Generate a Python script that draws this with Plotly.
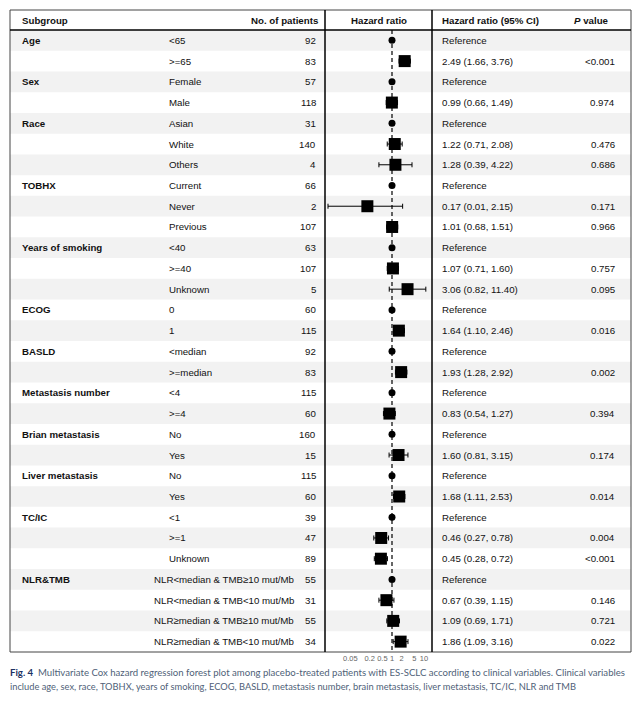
import plotly.graph_objects as go

# The page body has an 8px margin, so the figure is sized to the visible area
OFF = 8
W, H = 641 - 2 * OFF, 706 - 2 * OFF

groups = ["Age", "", "Sex", "", "Race", "", "", "TOBHX", "", "", "Years of smoking", "", "",
          "ECOG", "", "BASLD", "", "Metastasis number", "", "Brian metastasis", "",
          "Liver metastasis", "", "TC/IC", "", "", "NLR&TMB", "", "", ""]
levels = ["<65", ">=65", "Female", "Male", "Asian", "White", "Others", "Current", "Never", "Previous",
          "<40", ">=40", "Unknown", "0", "1", "<median", ">=median", "<4", ">=4", "No", "Yes",
          "No", "Yes", "<1", ">=1", "Unknown",
          "NLR<median & TMB≥10 mut/Mb", "NLR<median & TMB<10 mut/Mb",
          "NLR≥median & TMB≥10 mut/Mb", "NLR≥median & TMB<10 mut/Mb"]
patients = [92, 83, 57, 118, 31, 140, 4, 66, 2, 107, 63, 107, 5, 60, 115, 92, 83, 115, 60,
            160, 15, 115, 60, 39, 47, 89, 55, 31, 55, 34]
# None = reference level
hr = [None, 2.49, None, 0.99, None, 1.22, 1.28, None, 0.17, 1.01, None, 1.07, 3.06, None, 1.64,
      None, 1.93, None, 0.83, None, 1.60, None, 1.68, None, 0.46, 0.45, None, 0.67, 1.09, 1.86]
lo = [None, 1.66, None, 0.66, None, 0.71, 0.39, None, 0.01, 0.68, None, 0.71, 0.82, None, 1.10,
      None, 1.28, None, 0.54, None, 0.81, None, 1.11, None, 0.27, 0.28, None, 0.39, 0.69, 1.09]
hi = [None, 3.76, None, 1.49, None, 2.08, 4.22, None, 2.15, 1.51, None, 1.60, 11.40, None, 2.46,
      None, 2.92, None, 1.27, None, 3.15, None, 2.53, None, 0.78, 0.72, None, 1.15, 1.71, 3.16]
pvals = ["", "<0.001", "", "0.974", "", "0.476", "0.686", "", "0.171", "0.966", "", "0.757", "0.095",
         "", "0.016", "", "0.002", "", "0.394", "", "0.174", "", "0.014", "", "0.004", "<0.001",
         "", "0.146", "0.721", "0.022"]
tick_vals = [0.05, 0.2, 0.5, 1, 2, 5, 10]
tick_text = ["0.05", "0.2", "0.5", "1", "2", "5", "10"]

nrows = len(levels)
rows = list(range(nrows))

def px(x):
    return (x - OFF) / W

def py(y):
    return 1 - (y - OFF) / H

TOP, HEAD, BOT, LEFT, RIGHT = 10, 30, 652, 10, 631
SEP1, SEP2 = 325, 432
X1 = 392          # window pixel of HR = 1
PPD = 32.0        # pixels per decade

fig = go.Figure()

est_rows = [i for i in rows if hr[i] is not None]
fig.add_trace(go.Scatter(
    x=[hr[i] for i in est_rows], y=est_rows, mode="markers",
    marker=dict(symbol="square", size=12, color="black", line=dict(width=0)),
    error_x=dict(type="data", symmetric=False,
                 array=[hi[i] - hr[i] for i in est_rows],
                 arrayminus=[hr[i] - lo[i] for i in est_rows],
                 color="black", thickness=1, width=2.5),
    hoverinfo="skip", showlegend=False))
ref_rows = [i for i in rows if hr[i] is None]
fig.add_trace(go.Scatter(
    x=[1] * len(ref_rows), y=ref_rows, mode="markers",
    marker=dict(symbol="circle", size=7, color="black"),
    hoverinfo="skip", showlegend=False))

shapes = []
for i in rows:
    if i % 2 == 0:
        shapes.append(dict(type="rect", xref="paper", yref="y", x0=px(LEFT), x1=px(RIGHT),
                           y0=i - 0.5, y1=i + 0.5, fillcolor="#f2f2f2", line=dict(width=0),
                           layer="below"))
shapes.append(dict(type="line", xref="x", yref="y", x0=1, x1=1, y0=-0.5, y1=nrows - 0.5,
                   line=dict(color="black", width=1.2, dash="4px,3px"), layer="below"))
shapes.append(dict(type="rect", xref="paper", yref="paper", x0=px(LEFT), x1=px(RIGHT),
                   y0=py(BOT), y1=py(TOP), line=dict(color="#444", width=1)))
shapes.append(dict(type="line", xref="paper", yref="paper", x0=px(LEFT), x1=px(RIGHT),
                   y0=py(HEAD), y1=py(HEAD), line=dict(color="black", width=1.5)))
for s in (SEP1, SEP2):
    shapes.append(dict(type="line", xref="paper", yref="paper", x0=px(s), x1=px(s),
                       y0=py(BOT), y1=py(TOP), line=dict(color="black", width=1.5)))

FONT = "Liberation Sans, Arial, sans-serif"
FS = 9.7
TXT = "#111111"
ann = []

def add(text, x, y, anchor, bold=False, yref="paper", size=FS, color=TXT, family=FONT):
    if bold:
        text = "<b>" + text + "</b>"
    ann.append(dict(text=text, x=x, y=y, xref="paper", yref=yref, xanchor=anchor,
                    yanchor="middle", showarrow=False,
                    font=dict(family=family, size=size, color=color)))

hy = py(20)
add("Subgroup", px(20), hy, "left", True)
add("No. of patients", px(320), hy, "right", True)
add("Hazard ratio", px(379), hy, "center", True)
add("Hazard ratio (95% CI)", px(440), hy, "left", True)
add("<i>P</i> value", px(611), hy, "right", True)

for i in rows:
    if groups[i]:
        add(groups[i], px(20), i, "left", True, yref="y")
    lx = 152 if levels[i].startswith("NLR") else 167
    add(levels[i], px(lx), i, "left", yref="y")
    add(str(patients[i]), px(318), i, "right", yref="y")
    if hr[i] is None:
        t = "Reference"
    else:
        t = f"{hr[i]:.2f} ({lo[i]:.2f}, {hi[i]:.2f})"
    add(t, px(440), i, "left", yref="y")
    if pvals[i]:
        add(pvals[i], px(617), i, "right", yref="y")

CAPF = "Lato, Open Sans, sans-serif"
add("<b><span style='color:#1c3263'>Fig. 4</span></b>  Multivariate Cox hazard regression forest plot among "
    "placebo-treated patients with ES-SCLC according to clinical variables. Clinical variables",
    px(8), py(672), "left", size=9.6, color="#4f5f78", family=CAPF)
add("include age, sex, race, TOBHX, years of smoking, ECOG, BASLD, metastasis number, brain "
    "metastasis, liver metastasis, TC/IC, NLR and TMB",
    px(8), py(686), "left", size=9.3, color="#4f5f78", family=CAPF)

xlo = (SEP1 - X1) / PPD
xhi = (SEP2 - X1) / PPD

fig.update_layout(
    width=W, height=H, margin=dict(l=0, r=0, t=0, b=0),
    paper_bgcolor="white", plot_bgcolor="rgba(0,0,0,0)",
    shapes=shapes, annotations=ann,
    xaxis=dict(type="log", domain=[px(SEP1), px(SEP2)], range=[xlo, xhi],
               tickvals=tick_vals, ticktext=tick_text, ticks="", showgrid=False,
               zeroline=False, showline=False,
               tickfont=dict(family=FONT, size=7.5, color="#666666")),
    yaxis=dict(domain=[py(BOT), py(HEAD)], range=[nrows - 0.5, -0.5], visible=False,
               showgrid=False, zeroline=False),
)

fig.write_html("out.html")
